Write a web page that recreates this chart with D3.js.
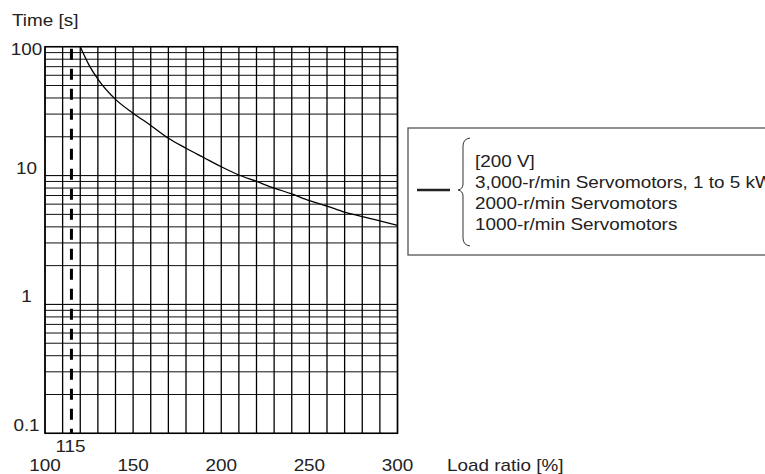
<!DOCTYPE html>
<html>
<head>
<meta charset="utf-8">
<script src="https://cdn.jsdelivr.net/npm/d3@7"></script>
<style>
  body { margin: 0; background: #fff; }
  svg { display: block; font-family: "Liberation Sans", Arial, sans-serif; }
</style>
</head>
<body>
<svg width="765" height="474"></svg>
<script>
// load ratio [%] vs. time [s]
var loadRatio = [120, 125, 130, 140, 150, 160, 170, 180, 190, 200, 210, 220, 230, 240, 250, 260, 270, 280, 290, 300];
var timeSec   = [100, 72, 56, 39, 30.5, 24.5, 19.5, 16.3, 13.8, 11.7, 10.1, 9.0, 8.0, 7.2, 6.4, 5.8, 5.2, 4.8, 4.45, 4.1];

var xTicks = [100, 150, 200, 250, 300];
var yTicks = [0.1, 1, 10, 100];
var limitLoad = 115;
var legendLines = ["[200 V]", "3,000-r/min Servomotors, 1 to 5 kW", "2000-r/min Servomotors", "1000-r/min Servomotors"];

var svg = d3.select("svg");

var x = d3.scaleLinear().domain([100, 300]).range([45, 397.5]);
var y = d3.scaleLog().domain([0.1, 100]).range([433.3, 46.7]);

// the source lettering is a bit wider than Arial, stretch it
var stretch = 1.18;
function place(sel, px, py) {
    return sel.attr("transform", "translate(" + px + "," + py + ") scale(" + stretch + ",1)");
}

// horizontal grid: 1..9 in each decade
var hLines = [];
[0.1, 1, 10].forEach(function (d) {
    for (var k = 1; k <= 10; k++) hLines.push(d * k);
});

svg.append("g")
    .selectAll("line")
    .data(hLines)
    .enter().append("line")
        .attr("x1", x(100))
        .attr("x2", x(300))
        .attr("y1", function (d) { return y(d); })
        .attr("y2", function (d) { return y(d); })
        .attr("stroke", "#111")
        .attr("stroke-width", 1);

// vertical grid every 10 %
svg.append("g")
    .selectAll("line")
    .data(d3.range(100, 301, 10))
    .enter().append("line")
        .attr("x1", function (d) { return x(d); })
        .attr("x2", function (d) { return x(d); })
        .attr("y1", y(100))
        .attr("y2", y(0.1))
        .attr("stroke", "#000")
        .attr("stroke-width", 1.3);

svg.append("rect")
    .attr("x", x(100))
    .attr("y", y(100))
    .attr("width", x(300) - x(100))
    .attr("height", y(0.1) - y(100))
    .attr("fill", "none")
    .attr("stroke", "#000")
    .attr("stroke-width", 1.5);

// 115 % limit line
svg.append("line")
    .attr("x1", x(limitLoad))
    .attr("x2", x(limitLoad))
    .attr("y1", y(100) + 2)
    .attr("y2", y(0.1))
    .attr("stroke", "#000")
    .attr("stroke-width", 3)
    .attr("stroke-dasharray", "11,9");

// overload curve
var line = d3.line()
    .x(function (d) { return x(d[0]); })
    .y(function (d) { return y(d[1]); })
    .curve(d3.curveMonotoneX);

svg.append("path")
    .datum(d3.zip(loadRatio, timeSec))
    .attr("d", line)
    .attr("fill", "none")
    .attr("stroke", "#000")
    .attr("stroke-width", 1.3);

// y labels
svg.append("g")
    .style("font-size", "16px")
    .selectAll("text")
    .data(yTicks)
    .enter().append("text")
        .each(function (d) { place(d3.select(this), 26.5, Math.max(y(d) - 2, y(100) + 8)); })
        .attr("text-anchor", "middle")
        .attr("fill", "#222")
        .text(function (d) { return d; });

place(svg.append("text"), 12, 26)
    .style("font-size", "16px")
    .attr("fill", "#222")
    .text("Time [s]");

// x labels
svg.append("g")
    .style("font-size", "16px")
    .selectAll("text")
    .data(xTicks)
    .enter().append("text")
        .each(function (d) { place(d3.select(this), x(d), 471); })
        .attr("text-anchor", "middle")
        .attr("fill", "#222")
        .text(function (d) { return d; });

place(svg.append("text"), x(limitLoad) - 1, 452)
    .attr("text-anchor", "middle")
    .style("font-size", "16px")
    .attr("fill", "#222")
    .text(limitLoad);

place(svg.append("text"), 447, 471)
    .style("font-size", "16px")
    .attr("fill", "#222")
    .text("Load ratio [%]");

// legend
var lg = svg.append("g");
lg.append("rect")
    .attr("x", 408)
    .attr("y", 128)
    .attr("width", 400)
    .attr("height", 127)
    .attr("fill", "#fff")
    .attr("stroke", "#555")
    .attr("stroke-width", 1.3);

lg.append("line")
    .attr("x1", 417).attr("x2", 450)
    .attr("y1", 190).attr("y2", 190)
    .attr("stroke", "#222")
    .attr("stroke-width", 2.5);

lg.append("path")
    .attr("d", "M470,138 Q463,139 463,146 L463,184 Q463,189 458,190 Q463,191 463,196 L463,238 Q463,245 470,246")
    .attr("fill", "none")
    .attr("stroke", "#333")
    .attr("stroke-width", 1);

lg.selectAll("text")
    .data(legendLines)
    .enter().append("text")
        .each(function (d, i) { place(d3.select(this), 475, 167 + i * 21); })
        .style("font-size", "16px")
        .attr("fill", "#222")
        .text(function (d) { return d; });
</script>
</body>
</html>
